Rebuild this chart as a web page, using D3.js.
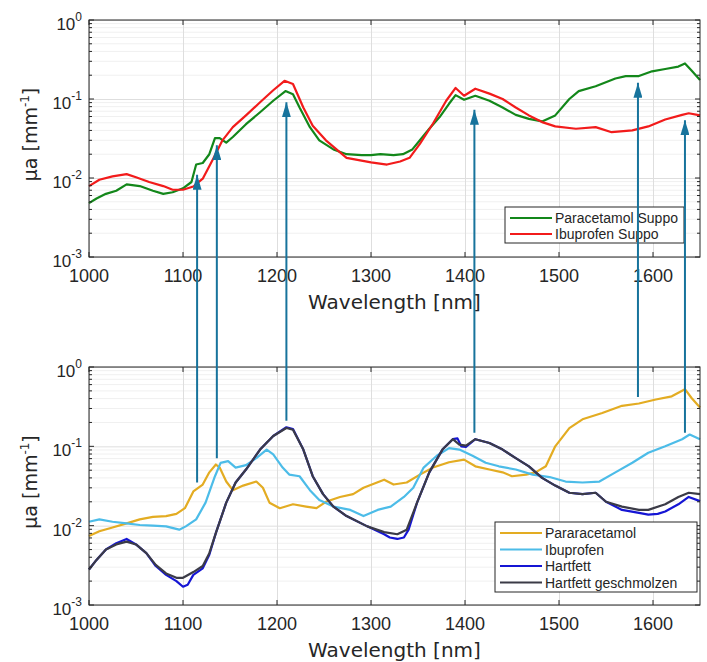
<!DOCTYPE html>
<html>
<head>
<meta charset="utf-8">
<script src="https://cdn.jsdelivr.net/npm/d3@7"></script>
<style>
  body { margin:0; background:#fff; }
  svg { display:block; font-family:"Liberation Sans", Arial, sans-serif; }
</style>
</head>
<body>
<svg id="chart"></svg>
<script>
// top panel: suppositories
const paraSuppo = [[1000,0.0048],[1008,0.0055],[1018,0.0063],[1029,0.0069],[1040,0.0083],[1054,0.0079],[1068,0.0069],[1079,0.0063],[1089,0.0066],[1100,0.0074],[1109,0.0089],[1114,0.0148],[1121,0.0155],[1128,0.020],[1134,0.032],[1139,0.032],[1146,0.028],[1153,0.033],[1167,0.048],[1182,0.068],[1196,0.095],[1209,0.126],[1217,0.115],[1224,0.078],[1235,0.044],[1245,0.030],[1260,0.023],[1274,0.020],[1290,0.0195],[1300,0.0195],[1310,0.020],[1324,0.0195],[1334,0.020],[1344,0.023],[1352,0.030],[1362,0.042],[1373,0.059],[1383,0.087],[1390,0.112],[1399,0.098],[1411,0.110],[1426,0.095],[1440,0.078],[1454,0.063],[1468,0.056],[1482,0.052],[1496,0.062],[1511,0.100],[1521,0.126],[1539,0.145],[1560,0.182],[1571,0.195],[1585,0.195],[1599,0.224],[1613,0.240],[1627,0.257],[1634,0.282],[1641,0.229],[1650,0.174]];
const ibuSuppo = [[1000,0.0079],[1011,0.0095],[1025,0.0105],[1040,0.0112],[1050,0.0102],[1064,0.0089],[1079,0.0079],[1089,0.0071],[1100,0.0071],[1111,0.0078],[1121,0.0098],[1132,0.0174],[1142,0.030],[1153,0.044],[1167,0.062],[1182,0.091],[1196,0.129],[1208,0.170],[1217,0.155],[1228,0.078],[1238,0.046],[1252,0.030],[1274,0.018],[1300,0.0158],[1317,0.0148],[1331,0.0162],[1341,0.018],[1352,0.027],[1366,0.049],[1380,0.095],[1390,0.138],[1399,0.110],[1411,0.135],[1426,0.117],[1440,0.100],[1454,0.078],[1468,0.062],[1482,0.051],[1496,0.045],[1518,0.042],[1539,0.044],[1556,0.038],[1578,0.040],[1595,0.045],[1613,0.055],[1631,0.063],[1638,0.066],[1650,0.062]];

// bottom panel: pure substances
const para = [[1000,0.0074],[1011,0.0085],[1025,0.0095],[1040,0.0107],[1054,0.0120],[1068,0.0129],[1082,0.0132],[1093,0.0141],[1102,0.0166],[1111,0.027],[1121,0.033],[1128,0.047],[1135,0.059],[1139,0.054],[1146,0.036],[1153,0.028],[1164,0.032],[1178,0.036],[1185,0.030],[1192,0.0195],[1203,0.0166],[1217,0.0186],[1231,0.0174],[1242,0.0166],[1252,0.020],[1267,0.023],[1281,0.025],[1292,0.030],[1314,0.038],[1324,0.033],[1338,0.035],[1352,0.044],[1366,0.054],[1383,0.063],[1399,0.068],[1411,0.056],[1426,0.051],[1440,0.047],[1450,0.042],[1465,0.044],[1475,0.047],[1486,0.056],[1496,0.100],[1511,0.170],[1525,0.219],[1546,0.263],[1567,0.324],[1585,0.347],[1603,0.389],[1620,0.427],[1634,0.525],[1641,0.407],[1650,0.309]];
const ibu = [[1000,0.0112],[1011,0.0120],[1025,0.0112],[1040,0.0107],[1054,0.0102],[1068,0.0100],[1082,0.0098],[1096,0.0089],[1103,0.0098],[1114,0.0120],[1124,0.0195],[1134,0.042],[1140,0.062],[1148,0.065],[1156,0.054],[1167,0.058],[1178,0.071],[1189,0.091],[1196,0.079],[1206,0.054],[1213,0.044],[1224,0.042],[1235,0.028],[1245,0.021],[1260,0.0174],[1278,0.0158],[1292,0.0132],[1307,0.0158],[1321,0.0174],[1335,0.023],[1345,0.030],[1356,0.054],[1370,0.076],[1383,0.095],[1394,0.091],[1408,0.076],[1422,0.062],[1436,0.056],[1454,0.051],[1472,0.044],[1490,0.041],[1507,0.036],[1525,0.035],[1543,0.036],[1560,0.047],[1578,0.062],[1595,0.083],[1613,0.100],[1631,0.123],[1639,0.141],[1650,0.123]];
const hartfett = [[1000,0.0028],[1008,0.0037],[1018,0.0050],[1029,0.0060],[1040,0.0068],[1050,0.0058],[1061,0.0045],[1071,0.0031],[1082,0.0024],[1093,0.0020],[1100,0.0017],[1105,0.0018],[1111,0.0024],[1121,0.0029],[1128,0.0043],[1135,0.0081],[1146,0.0195],[1156,0.035],[1167,0.051],[1182,0.091],[1196,0.135],[1210,0.174],[1217,0.165],[1228,0.091],[1238,0.042],[1249,0.025],[1260,0.0174],[1274,0.0132],[1296,0.0098],[1314,0.0078],[1320,0.0071],[1328,0.0068],[1335,0.0071],[1340,0.0089],[1349,0.0195],[1362,0.047],[1376,0.091],[1387,0.123],[1392,0.126],[1396,0.100],[1401,0.098],[1411,0.123],[1426,0.110],[1440,0.091],[1454,0.071],[1468,0.056],[1482,0.040],[1496,0.032],[1511,0.026],[1525,0.025],[1539,0.026],[1550,0.020],[1567,0.0158],[1585,0.0145],[1595,0.0138],[1605,0.0141],[1613,0.0151],[1627,0.0186],[1638,0.023],[1650,0.0204]];
const hartGeschm = [[1000,0.0028],[1008,0.0037],[1018,0.0050],[1029,0.0058],[1040,0.0063],[1050,0.0058],[1061,0.0045],[1071,0.0032],[1082,0.0025],[1093,0.0022],[1100,0.0022],[1111,0.0026],[1121,0.0031],[1128,0.0045],[1135,0.0081],[1146,0.0195],[1156,0.035],[1167,0.051],[1182,0.091],[1196,0.135],[1210,0.170],[1217,0.162],[1228,0.091],[1238,0.042],[1249,0.025],[1260,0.0174],[1274,0.0132],[1296,0.0098],[1314,0.0083],[1328,0.0078],[1338,0.0089],[1349,0.0195],[1362,0.047],[1376,0.091],[1387,0.123],[1394,0.105],[1401,0.102],[1411,0.123],[1426,0.110],[1440,0.091],[1454,0.071],[1468,0.056],[1482,0.040],[1496,0.032],[1511,0.026],[1525,0.025],[1539,0.026],[1550,0.020],[1567,0.0174],[1585,0.0158],[1595,0.0158],[1613,0.0186],[1627,0.023],[1638,0.026],[1650,0.025]];

// arrows: wavelength, start value in bottom panel, tip value in top panel
const arrows = [[1115,0.035,0.011],[1136,0.071,0.026],[1210,0.21,0.091],[1410,0.148,0.073],[1584,0.42,0.16],[1634,0.148,0.054]];

const xTicks = [1000,1100,1200,1300,1400,1500,1600];
const yTicks = [1e-3,1e-2,1e-1,1];
const yTickExp = ["-3","-2","-1","0"];

const topSeries = [
  {name:"Paracetamol Suppo", data:paraSuppo, color:"#13871a"},
  {name:"Ibuprofen Suppo", data:ibuSuppo, color:"#f21b1b"}
];
const bottomSeries = [
  {name:"Pararacetamol", data:para, color:"#e3ac22"},
  {name:"Ibuprofen", data:ibu, color:"#4cbce8"},
  {name:"Hartfett", data:hartfett, color:"#1515d4"},
  {name:"Hartfett geschmolzen", data:hartGeschm, color:"#3b3b47"}
];

const W = 707, H = 662;
const svg = d3.select("#chart").attr("width",W).attr("height",H);

const x = d3.scaleLinear().domain([1000,1650]).range([89,700]);

function panel(top, bottom, series, legend){
  const y = d3.scaleLog().domain([1e-3,1]).range([bottom,top]);
  const g = svg.append("g");

  // minor grid
  const minors = [];
  [1e-3,1e-2,1e-1].forEach(d=>{ for(let k=2;k<=9;k++) minors.push(d*k); });
  g.selectAll(".mg").data(minors).join("line")
    .attr("x1",x.range()[0]).attr("x2",x.range()[1])
    .attr("y1",d=>y(d)).attr("y2",d=>y(d))
    .attr("stroke","#f0f0f0").attr("stroke-width",1);

  g.append("g")
    .attr("transform",`translate(0,${bottom})`)
    .call(d3.axisBottom(x).tickValues(xTicks).tickSize(-(bottom-top)).tickFormat(""))
    .call(s=>{ s.select(".domain").remove(); s.selectAll("line").attr("stroke","#dedede"); });
  g.append("g")
    .attr("transform",`translate(${x.range()[0]},0)`)
    .call(d3.axisLeft(y).tickValues(yTicks).tickSize(-(x.range()[1]-x.range()[0])).tickFormat(""))
    .call(s=>{ s.select(".domain").remove(); s.selectAll("line").attr("stroke","#dedede"); });

  // series
  const line = d3.line().x(d=>x(d[0])).y(d=>y(d[1]));
  series.forEach(s=>{
    g.append("path").datum(s.data)
      .attr("d",line)
      .attr("fill","none")
      .attr("stroke",s.color)
      .attr("stroke-width",2.2)
      .attr("stroke-linejoin","round");
  });

  // frame with inward ticks
  const fr = g.append("g").attr("stroke","#262626").attr("fill","none");
  fr.append("rect").attr("x",x.range()[0]).attr("y",top)
    .attr("width",x.range()[1]-x.range()[0]).attr("height",bottom-top);
  xTicks.forEach(t=>{
    fr.append("line").attr("x1",x(t)).attr("x2",x(t)).attr("y1",bottom).attr("y2",bottom-5);
    fr.append("line").attr("x1",x(t)).attr("x2",x(t)).attr("y1",top).attr("y2",top+5);
  });
  yTicks.forEach(t=>{
    fr.append("line").attr("x1",x.range()[0]).attr("x2",x.range()[0]+5).attr("y1",y(t)).attr("y2",y(t));
    fr.append("line").attr("x1",x.range()[1]).attr("x2",x.range()[1]-5).attr("y1",y(t)).attr("y2",y(t));
  });
  minors.forEach(t=>{
    fr.append("line").attr("x1",x.range()[0]).attr("x2",x.range()[0]+3).attr("y1",y(t)).attr("y2",y(t));
    fr.append("line").attr("x1",x.range()[1]).attr("x2",x.range()[1]-3).attr("y1",y(t)).attr("y2",y(t));
  });

  // tick labels
  g.selectAll(".xl").data(xTicks).join("text")
    .attr("x",d=>x(d)).attr("y",bottom+25)
    .attr("text-anchor","middle").attr("font-size",18).attr("fill","#262626")
    .text(d=>d);
  yTicks.forEach((t,i)=>{
    const tx = g.append("text").attr("x",82).attr("y",y(t)+10)
      .attr("text-anchor","end").attr("fill","#262626");
    tx.append("tspan").attr("font-size",17).text("10");
    tx.append("tspan").attr("font-size",12).attr("dy",-9).text(yTickExp[i]);
  });

  // axis labels
  g.append("text").attr("x",(x.range()[0]+x.range()[1])/2).attr("y",bottom+52)
    .attr("text-anchor","middle").attr("font-size",20).attr("fill","#262626")
    .attr("font-family","DejaVu Sans, sans-serif")
    .text("Wavelength [nm]");
  const yl = g.append("text")
    .attr("transform",`translate(37,${(top+bottom)/2 - 4}) rotate(-90)`)
    .attr("text-anchor","middle").attr("fill","#262626").attr("font-size",19)
    .attr("font-family","DejaVu Sans, sans-serif");
  yl.append("tspan").text("μa [mm");
  yl.append("tspan").attr("font-size",12).attr("dy",-8).text("-1");
  yl.append("tspan").attr("dy",8).text("]");

  // legend
  const lg = g.append("g");
  lg.append("rect").attr("x",legend.x).attr("y",legend.y)
    .attr("width",legend.w).attr("height",legend.h)
    .attr("fill","#fff").attr("stroke","#262626");
  series.forEach((s,i)=>{
    const ry = legend.y + 11 + i*legend.step;
    lg.append("line").attr("x1",legend.x+5).attr("x2",legend.x+47)
      .attr("y1",ry).attr("y2",ry).attr("stroke",s.color).attr("stroke-width",2.2);
    lg.append("text").attr("x",legend.x+50).attr("y",ry+5)
      .attr("font-size",14).attr("fill","#262626").text(s.name);
  });
  return y;
}

const yTop = panel(20, 257, topSeries, {x:505, y:207, w:179, h:36, step:16});
const yBot = panel(367, 605, bottomSeries, {x:495, y:522, w:202, h:70, step:16.5});

// arrows linking the panels
const arrowColor = "#17739c";
svg.append("defs").append("marker")
  .attr("id","head").attr("viewBox","0 0 15 9")
  .attr("refX",15).attr("refY",4.5)
  .attr("markerWidth",15).attr("markerHeight",9)
  .attr("markerUnits","userSpaceOnUse")
  .attr("orient","auto")
  .append("path").attr("d","M0,0 L15,4.5 L0,9 Z").attr("fill",arrowColor);

svg.selectAll(".arrow").data(arrows).join("line")
  .attr("x1",d=>x(d[0])).attr("x2",d=>x(d[0]))
  .attr("y1",d=>yBot(d[1])).attr("y2",d=>yTop(d[2]))
  .attr("stroke",arrowColor).attr("stroke-width",2)
  .attr("marker-end","url(#head)");
</script>
</body>
</html>
